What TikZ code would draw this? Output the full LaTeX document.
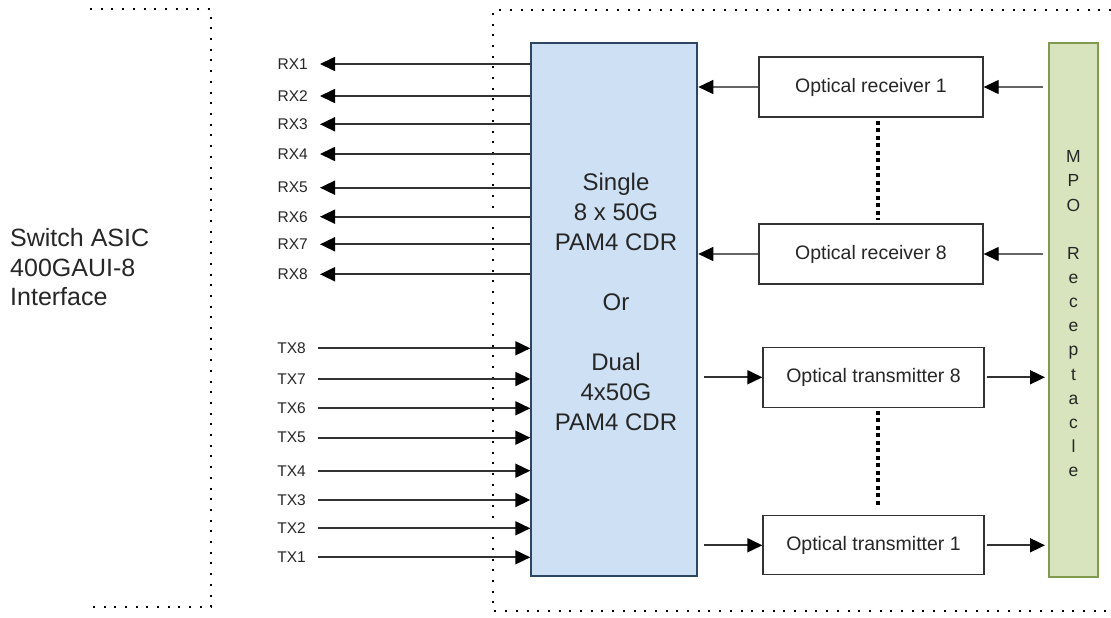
\documentclass[tikz,border=0pt]{standalone}
\usepackage{fontspec}
\setmainfont{Liberation Sans}
\usetikzlibrary{arrows.meta}
\definecolor{cdrfill}{RGB}{206,224,244}
\definecolor{cdrline}{RGB}{45,70,98}
\definecolor{mpofill}{RGB}{216,228,190}
\definecolor{mpoline}{RGB}{128,155,80}
\definecolor{wire}{RGB}{50,50,50}
\begin{document}
\begin{tikzpicture}[x=1pt,y=-1pt,
  outline/.style={draw=black, line width=2pt, dash pattern=on 2pt off 8.7pt},
  linkdots/.style={draw=black, line width=4pt, dash pattern=on 4pt off 3.5pt},
  optbox/.style={draw=black!80, line width=1.3pt, fill=white, inner sep=0pt, font=\fontsize{19.5}{23}\selectfont, text=black!85},
  lbl/.style={inner sep=0pt, anchor=east, font=\fontsize{15.5}{18}\selectfont, text=black!85},
  sig/.style={draw=wire, line width=1.7pt, -{Triangle[length=15pt,width=14pt,color=black]}},
  rsig/.style={draw=wire!75, line width=1.2pt, -{Triangle[length=15pt,width=14pt,color=black]}},
]
\useasboundingbox (0,0) rectangle (1111,618);
\fill[white] (0,0) rectangle (1111,618);

% dotted outlines
\draw[outline] (90,9) -- (210.7,9) -- (210.7,607) -- (87,607);
\draw[outline] (1111,10) -- (493.3,10) -- (493.3,611) -- (1111,611);

% left text
\node[anchor=north west, align=left, inner sep=0pt, font=\fontsize{25}{29.5}\selectfont, text=black!85] (asic) at (10,228.5) {Switch ASIC\\400GAUI-8\\Interface};

% CDR box
\node[draw=cdrline, fill=cdrfill, line width=2pt, minimum width=166pt, minimum height=533pt, inner sep=0pt] (cdr) at (614.3,309.5) {};
\node[anchor=north, align=center, inner sep=0pt, font=\fontsize{24}{30}\selectfont, text=black!85] (cdrtxt) at (616,172.5) {Single\\8 x 50G\\PAM4 CDR\\[30pt]Or\\[30pt]Dual\\4x50G\\PAM4 CDR};

% MPO box
\node[draw=mpoline, fill=mpofill, line width=2pt, minimum width=49pt, minimum height=534pt, inner sep=0pt] (mpo) at (1073.5,310) {};
\node[anchor=north, align=center, inner sep=0pt, font=\fontsize{17.5}{24.15}\selectfont, text=black!85] (mpotxt) at (1073.5,150.5) {M\\P\\O\\[24.15pt]R\\e\\c\\e\\p\\t\\a\\c\\l\\e};

% optical boxes
\node[optbox, minimum width=224pt, minimum height=60pt] (rx1box) at (871,87) {Optical receiver 1};
\node[optbox, minimum width=224pt, minimum height=60pt] (rx8box) at (871,254) {Optical receiver 8};
\node[optbox, minimum width=221pt, minimum height=60pt] (tx8box) at (873.5,377.3) {Optical transmitter 8};
\node[optbox, minimum width=221pt, minimum height=59pt] (tx1box) at (873.5,545.3) {Optical transmitter 1};

% thick dotted links
\draw[linkdots, shorten <=3pt, shorten >=3pt] ([xshift=7pt]rx1box.south) -- ([xshift=7pt]rx8box.north);
\draw[linkdots, shorten <=3pt, shorten >=7pt] ([xshift=4.2pt]tx8box.south) -- ([xshift=4.2pt]tx1box.north);

% receiver / transmitter arrows
\draw[rsig, shorten <=5pt] (mpo.west |- rx1box) -- (rx1box.east);
\draw[rsig] (rx1box.west) -- (cdr.east |- rx1box);
\draw[rsig, shorten <=5pt] (mpo.west |- rx8box) -- (rx8box.east);
\draw[rsig] (rx8box.west) -- (cdr.east |- rx8box);
\draw[sig, shorten <=6pt] (cdr.east |- tx8box) -- (tx8box.west);
\draw[sig, shorten <=2pt, shorten >=3pt] (tx8box.east) -- (mpo.west |- tx8box);
\draw[sig, shorten <=6pt] (cdr.east |- tx1box) -- (tx1box.west);
\draw[sig, shorten <=2pt, shorten >=3pt] (tx1box.east) -- (mpo.west |- tx1box);

% RX labels and arrows
\foreach \i/\y in {1/64,2/96,3/124.3,4/154,5/187.7,6/216.7,7/244.3,8/274.3}{
  \node[lbl] (rxl\i) at (308,\y) {RX\i};
  \draw[sig] (cdr.west |- rxl\i) -- ([xshift=12pt]rxl\i.east);
}
% TX labels and arrows
\foreach \i/\y in {8/348.3,7/379,6/408.3,5/437.7,4/470.7,3/500,2/528.3,1/557.3}{
  \node[lbl] (txl\i) at (306,\y) {TX\i};
  \draw[sig] ([xshift=12pt]txl\i.east) -- (cdr.west |- txl\i);
}
\end{tikzpicture}
\end{document}
